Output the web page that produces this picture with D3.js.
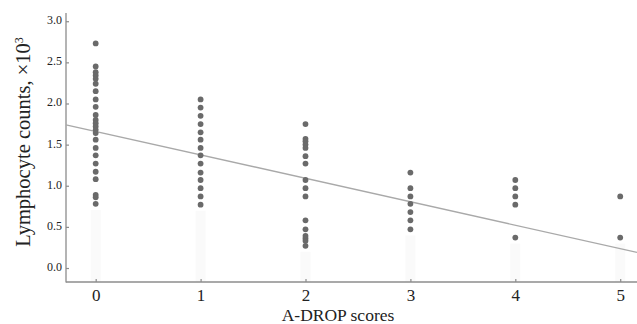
<!DOCTYPE html>
<html>
<head>
<meta charset="utf-8">
<script src="https://cdn.jsdelivr.net/npm/d3@7"></script>
<style>
  html, body { margin: 0; padding: 0; background: #fff; }
  svg { display: block; }
  text { font-family: "Liberation Serif", "Times New Roman", serif; fill: #222; }
</style>
</head>
<body>
<svg id="chart" width="637" height="324"></svg>
<script>
// ---- data ----
const scores = [0, 1, 2, 3, 4, 5];
const score0 = [2.73, 2.45, 2.38, 2.34, 2.30, 2.24, 2.15, 2.05, 1.96, 1.86, 1.80, 1.76, 1.72, 1.68, 1.64, 1.56, 1.46, 1.37, 1.27, 1.17, 1.08, 0.89, 0.86, 0.78];
const score1 = [2.05, 1.95, 1.85, 1.75, 1.65, 1.56, 1.46, 1.37, 1.27, 1.16, 1.07, 0.97, 0.87, 0.77];
const score2 = [1.75, 1.57, 1.54, 1.50, 1.46, 1.36, 1.27, 1.07, 0.97, 0.87, 0.58, 0.47, 0.39, 0.36, 0.33, 0.27];
const score3 = [1.16, 0.97, 0.87, 0.78, 0.68, 0.58, 0.47];
const score4 = [1.07, 0.97, 0.87, 0.77, 0.37];
const score5 = [0.87, 0.37];
const yTicks = [0.0, 0.5, 1.0, 1.5, 2.0, 2.5, 3.0];
const xTicks = [0, 1, 2, 3, 4, 5];
const fitIntercept = 1.66;
const fitSlope = -0.285;
const xLabel = "A-DROP scores";
const yLabel = "Lymphocyte counts, ×10";
const yLabelSup = "3";

const groups = [score0, score1, score2, score3, score4, score5];

// ---- layout ----
const svg = d3.select("#chart");
const x = d3.scaleLinear().domain([-0.283, 5.16]).range([66, 637]);
const y = d3.scaleLinear().domain([-0.17, 3.10]).range([282, 13]);

// faint column shading
svg.append("g").selectAll("rect")
  .data(scores)
  .join("rect")
  .attr("x", d => x(d) - 5)
  .attr("width", 10)
  .attr("y", (d, i) => y(d3.min(groups[i])) + 6)
  .attr("height", (d, i) => y.range()[0] - y(d3.min(groups[i])) - 6)
  .attr("fill", "#fafafa");

// axes
const axisColor = "#8c8c8c";
const yAxis = svg.append("g")
  .attr("transform", `translate(${x.range()[0]},0)`)
  .call(d3.axisRight(y).tickValues(yTicks).tickSize(3).tickFormat(d3.format(".1f")));
yAxis.select(".domain").remove();
yAxis.selectAll(".tick line").attr("stroke", axisColor).attr("stroke-width", 1.2);
yAxis.selectAll(".tick text")
  .attr("x", -4)
  .attr("text-anchor", "end")
  .attr("dy", "0.2em")
  .style("font-family", "Liberation Serif, serif")
  .style("font-size", "12px")
  .attr("fill", "#333");

const xAxis = svg.append("g")
  .attr("transform", `translate(0,${y.range()[0]})`)
  .call(d3.axisTop(x).tickValues(xTicks).tickSize(3).tickFormat(d3.format("d")));
xAxis.select(".domain").remove();
xAxis.selectAll(".tick line").attr("stroke", axisColor).attr("stroke-width", 1.2);
xAxis.selectAll(".tick text")
  .attr("y", 18.5)
  .attr("dy", "0")
  .style("font-family", "Liberation Serif, serif")
  .style("font-size", "17px")
  .attr("fill", "#222");

// axis lines
svg.append("line")
  .attr("x1", x.range()[0]).attr("x2", x.range()[0])
  .attr("y1", y.range()[1]).attr("y2", y.range()[0] + 0.6)
  .attr("stroke", axisColor).attr("stroke-width", 1.3);
svg.append("line")
  .attr("x1", x.range()[0]).attr("x2", x.range()[1])
  .attr("y1", y.range()[0]).attr("y2", y.range()[0])
  .attr("stroke", axisColor).attr("stroke-width", 1.3);

// regression line
const fitX = x.domain();
svg.append("path")
  .datum(fitX.map(s => [s, fitIntercept + fitSlope * s]))
  .attr("d", d3.line().x(d => x(d[0])).y(d => y(d[1])))
  .attr("fill", "none")
  .attr("stroke", "#a9a9a9")
  .attr("stroke-width", 1.4);

// points
const pts = [];
groups.forEach((vals, i) => vals.forEach(v => pts.push({ s: scores[i], v })));
svg.append("g").selectAll("circle")
  .data(pts)
  .join("circle")
  .attr("cx", d => x(d.s))
  .attr("cy", d => y(d.v))
  .attr("r", 2.9)
  .attr("fill", "#6a6a6a");

// axis titles
svg.append("text")
  .attr("x", 338).attr("y", 320.5)
  .attr("text-anchor", "middle")
  .style("font-size", "17.5px")
  .text(xLabel);

const yt = svg.append("text")
  .attr("transform", "translate(30,142) rotate(-90)")
  .attr("text-anchor", "middle")
  .style("font-size", "20.5px");
yt.append("tspan").text(yLabel);
yt.append("tspan").attr("dy", "-0.55em").style("font-size", "12px").text(yLabelSup);
</script>
</body>
</html>
